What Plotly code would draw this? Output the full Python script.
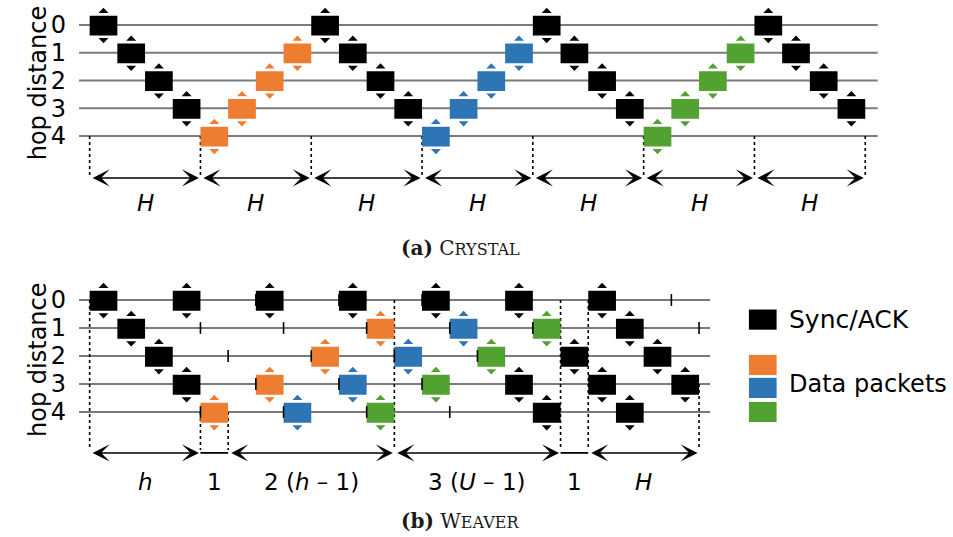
import plotly.graph_objects as go

# ---------------- data ----------------
HOPS = [0, 1, 2, 3, 4]
HOP_LABELS = ["0", "1", "2", "3", "4"]

# Crystal: one transmission per slot (slot = index in the list)
crystal_hops = [0, 1, 2, 3, 4, 3, 2, 1, 0, 1, 2, 3, 4, 3, 2, 1,
                0, 1, 2, 3, 4, 3, 2, 1, 0, 1, 2, 3]
crystal_kinds = ["sync", "sync", "sync", "sync", "d1", "d1", "d1", "d1",
                 "sync", "sync", "sync", "sync", "d2", "d2", "d2", "d2",
                 "sync", "sync", "sync", "sync", "d3", "d3", "d3", "d3",
                 "sync", "sync", "sync", "sync"]
crystal_bounds = [-0.5, 3.5, 7.5, 11.5, 15.5, 19.5, 23.5, 27.5]
crystal_labels = ["<i>H</i>", "<i>H</i>", "<i>H</i>", "<i>H</i>",
                  "<i>H</i>", "<i>H</i>", "<i>H</i>"]
crystal_arrowed = [True, True, True, True, True, True, True]
crystal_drop_from = [4, 4, 4, 4, 4, 4, 4, 4]

# Weaver: transmissions as (slot, hop, kind)
weaver_slots = [0, 1, 2, 3, 3, 4, 6, 6, 7, 8, 9, 9, 10, 10, 11, 12, 12,
                13, 14, 15, 15, 16, 16, 17, 18, 18, 19, 19, 20, 21]
weaver_hops = [0, 1, 2, 3, 0, 4, 0, 3, 4, 2, 0, 3, 1, 4, 2, 0, 3,
               1, 2, 0, 3, 1, 4, 2, 0, 3, 1, 4, 2, 3]
weaver_kinds = ["sync", "sync", "sync", "sync", "sync", "d1", "sync", "d1",
                "d2", "d1", "sync", "d2", "d1", "d3", "d2", "sync", "d3",
                "d2", "d3", "sync", "sync", "d3", "sync", "sync", "sync",
                "sync", "sync", "sync", "sync", "sync"]
# slots in which a node wakes up (drawn as a short tick at slot start)
tick_slots = [6, 9, 12, 21, 4, 7, 10, 13, 16, 22, 5, 8, 11, 14,
              6, 9, 12, 4, 7, 10, 13]
tick_hops = [0, 0, 0, 0, 1, 1, 1, 1, 1, 1, 2, 2, 2, 2,
             3, 3, 3, 4, 4, 4, 4]
weaver_bounds = [-0.5, 3.5, 4.5, 10.5, 16.5, 17.5, 21.5]
weaver_labels = ["<i>h</i>", "1", "2 (<i>h</i> – 1)", "3 (<i>U</i> – 1)",
                 "1", "<i>H</i>"]
weaver_arrowed = [True, False, True, True, False, True]
weaver_drop_from = [0, 4, 4, 0, 0, 0, 3]

legend_labels = ["Sync/ACK", "Data packets"]

# ---------------- style ----------------
COLORS = {"sync": "#000000", "d1": "#ED7D31", "d2": "#2E75B6", "d3": "#52A232"}
LINE_GRAY = "#7b7b7b"
SANS = "DejaVu Sans"
SERIF = "DejaVu Serif"

W, H = 953, 537
X_RANGE = [-0.8845, 30.668]

fig = go.Figure()


def packet_shapes(slots, hops):
    """Rectangle body plus small up/down triangles for every packet."""
    xs, ys = [], []
    for s, h in zip(slots, hops):
        xs += [s - 0.5, s + 0.5, s + 0.5, s - 0.5, s - 0.5, None]
        ys += [h - 0.33, h - 0.33, h + 0.38, h + 0.38, h - 0.33, None]
        xs += [s - 0.18, s + 0.18, s, s - 0.18, None]
        ys += [h - 0.43, h - 0.43, h - 0.62, h - 0.43, None]
        xs += [s - 0.18, s + 0.18, s, s - 0.18, None]
        ys += [h + 0.47, h + 0.47, h + 0.66, h + 0.47, None]
    return xs, ys


def add_panel(xa, ya, slots, hops, kinds, line_end, bounds, labels,
              arrowed, drop_from, arrow_y, label_y):
    # hop rows
    lx, ly = [], []
    for h in HOPS:
        lx += [X_RANGE[0], line_end, None]
        ly += [h, h, None]
    fig.add_trace(go.Scatter(x=lx, y=ly, mode="lines", xaxis=xa, yaxis=ya,
                             line=dict(color=LINE_GRAY, width=1.8),
                             hoverinfo="skip", showlegend=False))
    # dotted boundaries
    dx, dy = [], []
    for b, h0 in zip(bounds, drop_from):
        dx += [b, b, None]
        dy += [h0, arrow_y - 0.1, None]
    fig.add_trace(go.Scatter(x=dx, y=dy, mode="lines", xaxis=xa, yaxis=ya,
                             line=dict(color="black", width=1.6, dash="dot"),
                             hoverinfo="skip", showlegend=False))
    # plain (non-arrow) interval lines
    px_, py_ = [], []
    for i, arr in enumerate(arrowed):
        if not arr:
            px_ += [bounds[i], bounds[i + 1], None]
            py_ += [arrow_y, arrow_y, None]
    if px_:
        fig.add_trace(go.Scatter(x=px_, y=py_, mode="lines", xaxis=xa,
                                 yaxis=ya, line=dict(color="black", width=1.8),
                                 hoverinfo="skip", showlegend=False))
    # packets
    for kind in ["sync", "d1", "d2", "d3"]:
        ss = [s for s, k in zip(slots, kinds) if k == kind]
        hh = [h for h, k in zip(hops, kinds) if k == kind]
        if not ss:
            continue
        xs, ys = packet_shapes(ss, hh)
        fig.add_trace(go.Scatter(x=xs, y=ys, mode="lines", fill="toself",
                                 fillcolor=COLORS[kind], xaxis=xa, yaxis=ya,
                                 line=dict(color=COLORS[kind], width=0),
                                 hoverinfo="skip", showlegend=False))
    # arrows and interval labels
    for i, lab in enumerate(labels):
        b0, b1 = bounds[i], bounds[i + 1]
        if arrowed[i]:
            fig.add_annotation(x=b1, y=arrow_y, ax=b0, ay=arrow_y,
                               xref=xa, yref=ya, axref=xa, ayref=ya, text="",
                               showarrow=True, arrowside="end+start",
                               arrowhead=3, startarrowhead=3,
                               arrowsize=1.9, startarrowsize=1.9,
                               arrowwidth=1.5, arrowcolor="black",
                               standoff=1.5, startstandoff=1.5)
        fig.add_annotation(x=(b0 + b1) / 2, y=label_y, xref=xa, yref=ya,
                           text=lab, showarrow=False,
                           font=dict(family=SANS, size=23, color="black"))


# (a) Crystal
add_panel("x", "y", list(range(len(crystal_hops))), crystal_hops,
          crystal_kinds, 27.95, crystal_bounds, crystal_labels,
          crystal_arrowed, crystal_drop_from, 5.51, 6.41)

# (b) Weaver
add_panel("x2", "y2", weaver_slots, weaver_hops, weaver_kinds, 21.9,
          weaver_bounds, weaver_labels, weaver_arrowed, weaver_drop_from,
          5.46, 6.5)

# wake-up ticks
tx, ty = [], []
for s, h in zip(tick_slots, tick_hops):
    tx += [s - 0.5, s - 0.5, None]
    ty += [h - 0.21, h + 0.21, None]
fig.add_trace(go.Scatter(x=tx, y=ty, mode="lines", xaxis="x2", yaxis="y2",
                         line=dict(color="black", width=1.6),
                         hoverinfo="skip", showlegend=False))

# legend
legend_boxes = [("sync", 0.70), ("d1", 2.32), ("d2", 3.14), ("d3", 4.0)]
for kind, yc in legend_boxes:
    fig.add_shape(type="rect", xref="x2", yref="y2", x0=23.3, x1=24.3,
                  y0=yc - 0.36, y1=yc + 0.36, fillcolor=COLORS[kind],
                  line=dict(width=0))
fig.add_annotation(x=24.67, y=0.70, xref="x2", yref="y2", xanchor="left",
                   text=legend_labels[0], showarrow=False,
                   font=dict(family=SANS, size=25, color="black"))
fig.add_annotation(x=24.67, y=3.0, xref="x2", yref="y2", xanchor="left",
                   text=legend_labels[1], showarrow=False,
                   font=dict(family=SANS, size=24, color="black"))

# axis titles
for yr, yc in [("y", 2.1), ("y2", 2.14)]:
    fig.add_annotation(x=22 / W, y=yc, xref="paper", yref=yr,
                       text="hop distance", textangle=-90, showarrow=False,
                       font=dict(family=SANS, size=24, color="black"))

# captions
fig.add_annotation(x=460 / W, y=(248 - 25) / 27.75, xref="paper", yref="y",
                   text="<b>(a)</b> C<span style='font-size:16px'>RYSTAL</span>",
                   showarrow=False,
                   font=dict(family=SERIF, size=20, color="#1a1a1a"))
fig.add_annotation(x=460 / W, y=(521 - 300) / 28, xref="paper", yref="y2",
                   text="<b>(b)</b> W<span style='font-size:16px'>EAVER</span>",
                   showarrow=False,
                   font=dict(family=SERIF, size=20, color="#1a1a1a"))

yax = dict(tickvals=HOPS, ticktext=HOP_LABELS, showgrid=False, zeroline=False,
           showline=False, ticks="", ticklabelstandoff=12,
           tickfont=dict(family=SANS, size=24, color="black"))
xax = dict(range=X_RANGE, domain=[79 / W, 1], visible=False, showgrid=False,
           zeroline=False)

fig.update_layout(
    width=W, height=H,
    margin=dict(l=0, r=0, t=0, b=0),
    paper_bgcolor="white", plot_bgcolor="white",
    showlegend=False,
    xaxis=dict(xax, anchor="y"),
    xaxis2=dict(xax, anchor="y2"),
    yaxis=dict(yax, anchor="x", domain=[1 - 250 / H, 1],
               range=[(250 - 25) / 27.75, -25 / 27.75]),
    yaxis2=dict(yax, anchor="x2", domain=[0, 1 - 270 / H],
                range=[(537 - 300) / 28, -30 / 28]),
)

fig.write_html("out.html")
